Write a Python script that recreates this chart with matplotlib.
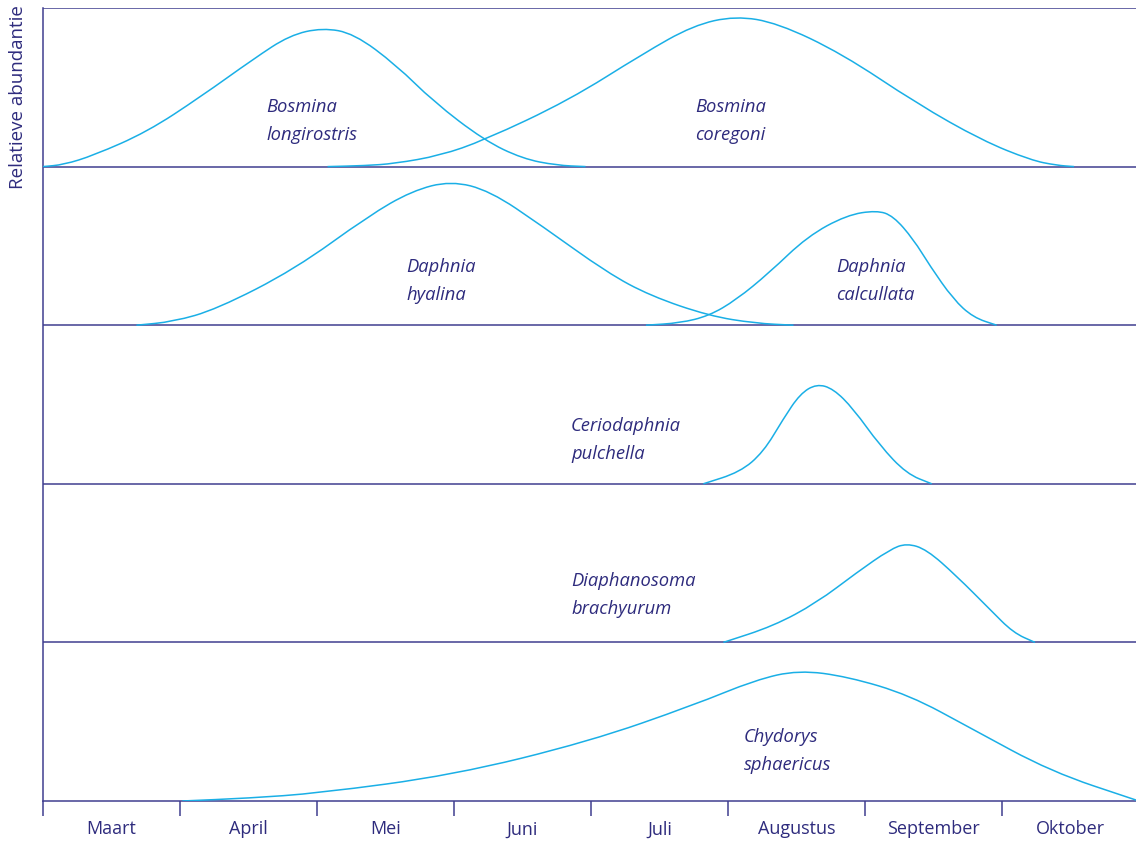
import numpy as np
import matplotlib
matplotlib.use("Agg")
import matplotlib.pyplot as plt
from matplotlib.path import Path
from matplotlib.patches import PathPatch

# ---------------- data ----------------
months = ["Maart", "April", "Mei", "Juni", "Juli", "Augustus", "September", "Oktober"]
ylabel = "Relatieve abundantie"

# x in months since start of March, y = relative abundance (fraction of row height)
bl_x = [0.00, 0.15, 0.37, 0.76, 1.15, 1.54, 1.80, 2.04, 2.27, 2.58, 2.85, 3.22, 3.50, 3.75, 3.96]
bl_y = [0.00, 0.012, 0.071, 0.219, 0.44, 0.681, 0.828, 0.875, 0.839, 0.639, 0.41, 0.166, 0.05, 0.008, 0.00]

bc_x = [2.077, 2.35, 2.566, 2.9, 3.219, 3.838, 4.38, 4.745, 5.054, 5.363, 5.832, 6.38, 6.852, 7.212, 7.40, 7.526]
bc_y = [0.00, 0.006, 0.019, 0.07, 0.166, 0.418, 0.712, 0.89, 0.95, 0.905, 0.712, 0.397, 0.166, 0.04, 0.008, 0.00]

dh_x = [0.682, 0.95, 1.268, 1.838, 2.376, 2.693, 2.977, 3.263, 3.642, 4.117, 4.434, 4.861, 5.2, 5.478]
dh_y = [0.00, 0.022, 0.101, 0.353, 0.689, 0.847, 0.91, 0.847, 0.626, 0.332, 0.185, 0.059, 0.012, 0.00]

dc_x = [4.401, 4.65, 4.861, 5.06, 5.30, 5.58, 5.866, 6.085, 6.206, 6.353, 6.474, 6.644, 6.79, 6.961]
dc_y = [0.00, 0.014, 0.059, 0.16, 0.33, 0.56, 0.694, 0.724, 0.689, 0.542, 0.374, 0.164, 0.049, 0.00]

cp_x = [4.82, 5.088, 5.258, 5.404, 5.526, 5.647, 5.769, 5.915, 6.109, 6.304, 6.487]
cp_y = [0.00, 0.074, 0.20, 0.41, 0.567, 0.63, 0.599, 0.473, 0.241, 0.063, 0.00]

db_x = [4.966, 5.331, 5.647, 5.939, 6.182, 6.304, 6.45, 6.669, 6.912, 7.082, 7.241]
db_y = [0.00, 0.103, 0.25, 0.44, 0.586, 0.625, 0.586, 0.418, 0.208, 0.061, 0.00]

cs_x = [1.017, 1.5, 2.007, 2.996, 3.985, 4.75, 5.199, 5.515, 5.874, 6.324, 6.774, 7.358, 7.978]
cs_y = [0.00, 0.018, 0.049, 0.164, 0.375, 0.605, 0.763, 0.825, 0.784, 0.668, 0.458, 0.185, 0.006]

species = ["Bosmina\nlongirostris", "Bosmina\ncoregoni", "Daphnia\nhyalina",
           "Daphnia\ncalcullata", "Ceriodaphnia\npulchella",
           "Diaphanosoma\nbrachyurum", "Chydorys\nsphaericus"]
curves_x = [bl_x, bc_x, dh_x, dc_x, cp_x, db_x, cs_x]
curves_y = [bl_y, bc_y, dh_y, dc_y, cp_y, db_y, cs_y]
rows = [4, 4, 3, 3, 2, 1, 0]          # baseline row of each species (0 = bottom)

# ---------------- layout / style ----------------
label_x = [1.628, 4.759, 2.65, 5.788, 3.854, 3.854, 5.117]
label_y = [4.285, 4.285, 3.28, 3.28, 2.275, 1.30, 0.315]

NAVY = "#2e2b7d"
LINE = "#403e90"
CYAN = "#1aafe6"
FONT = ["Open Sans", "DejaVu Sans"]

W, H = 1136, 841
fig = plt.figure(figsize=(W / 100, H / 100), dpi=100)
ax = fig.add_axes([43 / W, (H - 801) / H, (W - 43) / W, (801 - 8) / H])
n_rows = 5
xmax = (W - 43) / 137.0
ax.set_xlim(0, xmax)
ax.set_ylim(0, n_rows)


def smooth_path(xs, ys):
    """Quadratic B-spline style path: points act as control points,
    segment midpoints lie on the curve."""
    p = np.column_stack([xs, ys]).astype(float)
    n = len(p)
    verts = [p[0], (p[0] + p[1]) / 2]
    codes = [Path.MOVETO, Path.LINETO]
    for i in range(1, n - 1):
        verts += [p[i], (p[i] + p[i + 1]) / 2]
        codes += [Path.CURVE3, Path.CURVE3]
    verts.append(p[-1])
    codes.append(Path.LINETO)
    return Path(verts, codes)


# row baselines (and top line)
for r in range(1, n_rows + 1):
    ax.axhline(r, color=LINE, lw=1.1, zorder=1)

for xs, ys, r in zip(curves_x, curves_y, rows):
    yy = np.asarray(ys) + r
    patch = PathPatch(smooth_path(xs, yy), facecolor="none", edgecolor=CYAN,
                      lw=1.1, zorder=3, clip_on=True)
    ax.add_patch(patch)

for name, lx, ly in zip(species, label_x, label_y):
    ax.text(lx, ly, name, ha="left", va="center", color=NAVY, fontsize=13.2,
            style="italic", family=FONT, linespacing=1.72, zorder=4)

# spines
for s in ["top", "right"]:
    ax.spines[s].set_visible(False)
ax.spines["left"].set_color(LINE)
ax.spines["bottom"].set_color(LINE)
ax.spines["left"].set_linewidth(1.1)
ax.spines["bottom"].set_linewidth(1.1)
ax.set_yticks([])

# month boundaries as ticks, labels centered in months
ax.set_xticks(np.arange(0, len(months)), minor=True)
ax.tick_params(axis="x", which="minor", length=10.5, width=1.1, color=LINE)
ax.set_xticks(np.arange(len(months)) + 0.5)
ax.set_xticklabels(months, color=NAVY, fontsize=13, family=FONT)
ax.tick_params(axis="x", which="major", length=0, pad=14)

fig.text(18 / W, 1 - 97 / H, ylabel, rotation=90, ha="center", va="center",
         color=NAVY, fontsize=13.5, family=FONT)

fig.savefig("out.png", dpi=100)
